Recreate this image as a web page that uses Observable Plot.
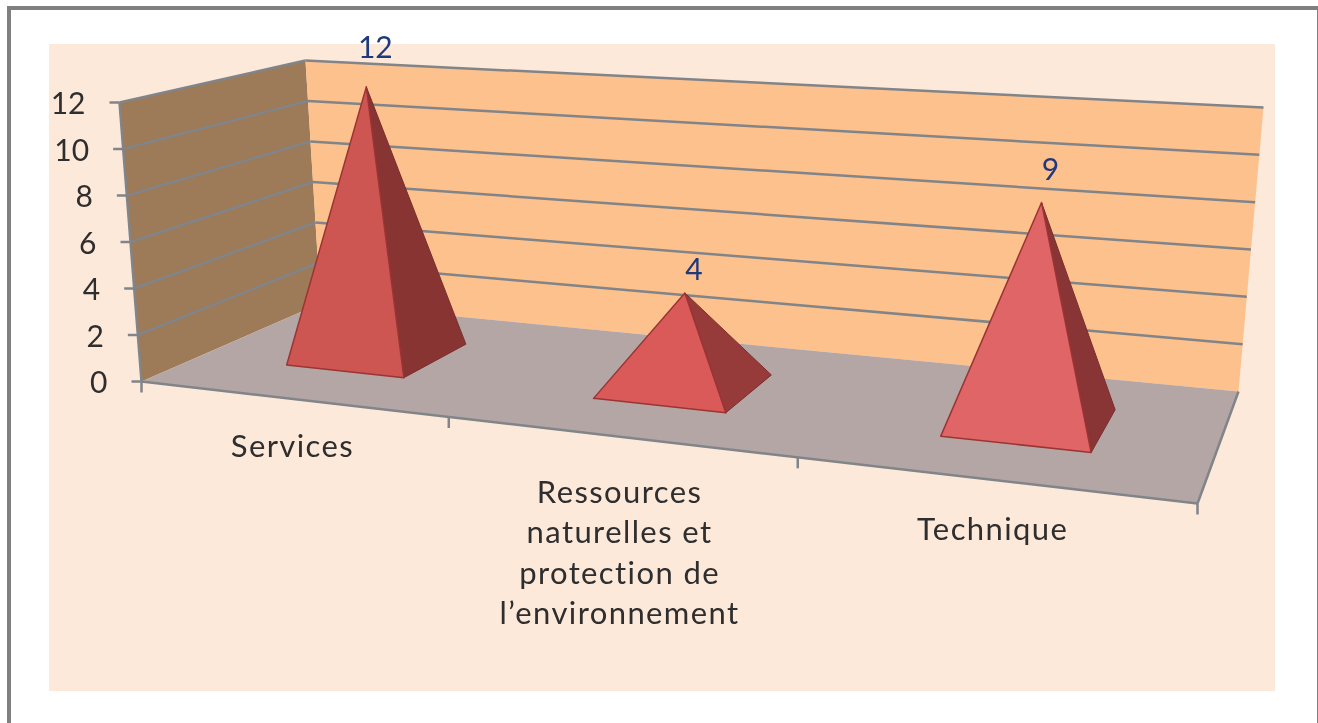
<!DOCTYPE html>
<html>
<head>
<meta charset="utf-8">
<script src="https://cdn.jsdelivr.net/npm/d3@7"></script>
<script src="https://cdn.jsdelivr.net/npm/@observablehq/plot@0.6"></script>
<style>
html,body{margin:0;padding:0;background:#fff;width:1318px;height:723px;overflow:hidden}
#frame{position:absolute;left:7px;top:6px;width:1306px;height:800px;border:4px solid #808080;box-sizing:content-box}
#panel{position:absolute;left:49px;top:44px;width:1226px;height:647px;background:#fde9da}
#chart{position:absolute;left:0;top:0}
#chart svg{display:block;filter:blur(.6px)}
</style>
</head>
<body>
<div id="frame"></div>
<div id="panel"></div>
<div id="chart"></div>
<script>
// ---- data ----
const categories = ["Services", "Ressources\nnaturelles et\nprotection de\nl’environnement", "Technique"];
const values = [12, 4, 9];
const valueTicks = [0, 2, 4, 6, 8, 10, 12];
const valueMax = 12;

// ---- styles and layout of the 3D box ----
const colors = {wall:"#9d7a58", back:"#fcc18d", floor:"#b5a6a6", grid:"#818488", text:"#2e2e2e", label:"#1f3a7c"};
const lightFaces = ["#cd5552", "#d95a58", "#e06567"];
const darkFaces = ["#883433", "#973a3a", "#8a3535"];
const edge = "#9c3433";
const floorQuad = [[141,381],[1197,503],[1238,391],[320,303]];
const topQuad = [[119,102],[1217,187],[1263,107],[305,60]];
const halfWidth = 0.066, halfDepth = 0.2;
const labelDrop = [48, 56, 50];
const valueLabelLift = [38, 23, 32];

// projective map of the unit square to a quad
function homography([[x0,y0],[x1,y1],[x2,y2],[x3,y3]]) {
  const dx1=x1-x2, dx2=x3-x2, sx=x0-x1+x2-x3, dy1=y1-y2, dy2=y3-y2, sy=y0-y1+y2-y3;
  const det=dx1*dy2-dx2*dy1, g=(sx*dy2-dx2*sy)/det, h=(dx1*sy-sx*dy1)/det;
  const a=x1-x0+g*x1, b=x3-x0+h*x3, d=y1-y0+g*y1, e=y3-y0+h*y3;
  return (u,w)=>{const q=g*u+h*w+1; return [(a*u+b*w+x0)/q,(d*u+e*w+y0)/q];};
}
const floorAt = homography(floorQuad);
const lift = topQuad.map((t,i)=>[t[0]-floorQuad[i][0], t[1]-floorQuad[i][1]]);
// u along the categories, w in depth, v the value
function P(u,w,v){
  const f=floorAt(u,w), k=v/valueMax;
  const off=c=>(1-w)*((1-u)*lift[0][c]+u*lift[1][c])+w*((1-u)*lift[3][c]+u*lift[2][c]);
  return {x:f[0]+off(0)*k, y:f[1]+off(1)*k};
}
const poly=(pts,fill,stroke,strokeWidth)=>Plot.line([...pts,pts[0]],{x:"x",y:"y",fill,stroke:stroke||"none",strokeWidth:strokeWidth||0,curve:"linear",strokeLinejoin:"round"});
const link=(rows,stroke,w)=>Plot.link(rows,{x1:d=>d[0].x,y1:d=>d[0].y,x2:d=>d[1].x,y2:d=>d[1].y,stroke,strokeWidth:w});

const n = categories.length;
const marks = [];
// walls and floor
marks.push(poly([P(0,0,0),P(0,1,0),P(0,1,valueMax),P(0,0,valueMax)],colors.wall));
marks.push(poly([P(0,1,0),P(1,1,0),P(1,1,valueMax),P(0,1,valueMax)],colors.back));
marks.push(poly([P(0,0,0),P(1,0,0),P(1,1,0),P(0,1,0)],colors.floor));
// grid
const gridTicks = valueTicks.filter(v=>v>0);
marks.push(link(gridTicks.map(v=>[P(0,1,v),P(1,1,v)]),colors.grid,2.5));
marks.push(link(gridTicks.map(v=>[P(0,0,v),P(0,1,v)]),colors.grid,2.5));
// box edges
marks.push(link([[P(0,0,0),P(0,0,valueMax)],[P(0,0,0),P(1,0,0)],[P(1,0,0),P(1,1,0)]],colors.grid,2.5));
// value axis ticks and labels
marks.push(Plot.link(valueTicks,{x1:v=>P(0,0,v).x-10,x2:v=>P(0,0,v).x,y1:v=>P(0,0,v).y,y2:v=>P(0,0,v).y,stroke:colors.grid,strokeWidth:2.5}));
marks.push(Plot.text(valueTicks,{x:v=>P(0,0,v).x-34,y:v=>P(0,0,v).y,text:v=>String(v),textAnchor:"end",dy:2,fontFamily:"Lato",fontSize:30,fill:colors.text}));
// category ticks and labels
const catTicks = d3.range(n+1);
marks.push(Plot.link(catTicks,{x1:i=>P(i/n,0,0).x,x2:i=>P(i/n,0,0).x,y1:i=>P(i/n,0,0).y,y2:i=>P(i/n,0,0).y+11,stroke:colors.grid,strokeWidth:2.5}));
marks.push(Plot.text(categories,{x:(c,i)=>P((i+.5)/n,0,0).x+2,y:(c,i)=>P((i+.5)/n,0,0).y+labelDrop[i]-18,text:c=>c,lineAnchor:"top",lineHeight:1.3,textAnchor:"middle",fontFamily:"Lato",fontSize:31,fill:colors.text}));
// pyramids
values.forEach((v,i)=>{
  const u=(i+.5)/n, A=P(u,.5,v);
  const FL=P(u-halfWidth,.5-halfDepth,0), FR=P(u+halfWidth,.5-halfDepth,0), BR=P(u+halfWidth,.5+halfDepth,0);
  marks.push(poly([FR,BR,A],darkFaces[i],"#7a2e2d",1));
  marks.push(poly([FL,FR,A],lightFaces[i],edge,1.5));
});
// value labels
marks.push(Plot.text(values,{x:(v,i)=>P((i+.5)/n,.5,v).x+9,y:(v,i)=>P((i+.5)/n,.5,v).y-valueLabelLift[i],text:v=>String(v),textAnchor:"middle",fontFamily:"Lato",fontSize:30,fill:colors.label}));

const chart = Plot.plot({
  width:1318,height:723,margin:0,
  x:{type:"identity",axis:null},
  y:{type:"identity",axis:null},
  style:{background:"transparent"},
  marks
});
document.getElementById("chart").appendChild(chart);
// the reference's category labels are set wider than the font's natural spacing
chart.querySelectorAll('g[aria-label="text"]')[1].style.letterSpacing="1.4px";
</script>
</body>
</html>
